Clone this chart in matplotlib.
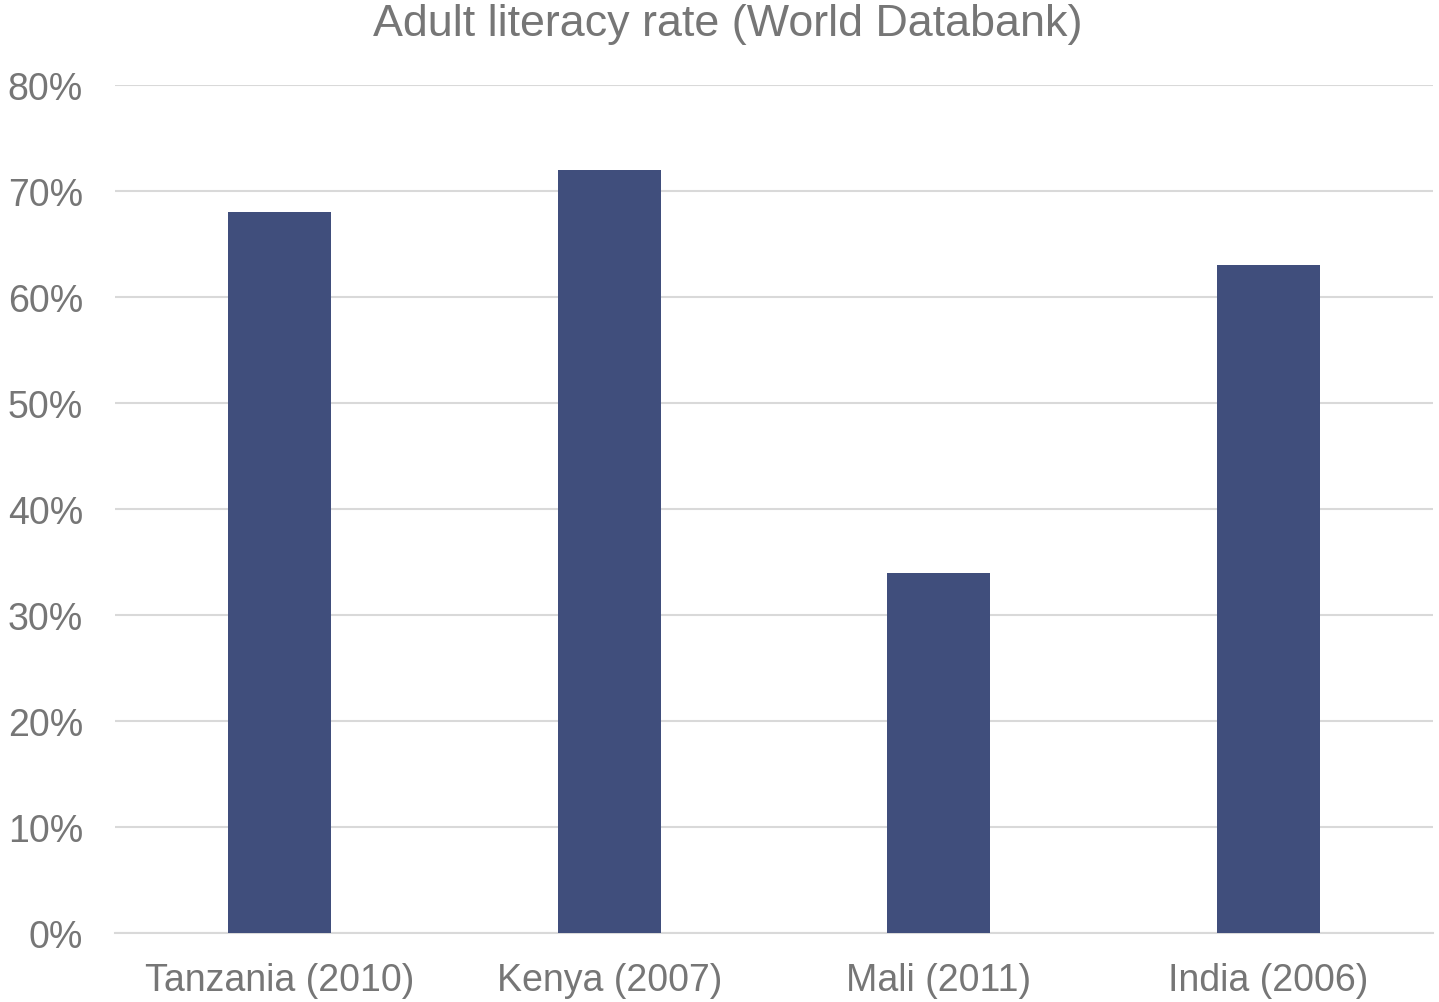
import matplotlib
matplotlib.use("Agg")
import matplotlib.pyplot as plt
from matplotlib.ticker import PercentFormatter

# Adult literacy rate by country (survey year)
countries = ["Tanzania (2010)", "Kenya (2007)", "Mali (2011)", "India (2006)"]
literacy  = [0.68, 0.72, 0.34, 0.63]
y_ticks   = [0.0, 0.1, 0.2, 0.3, 0.4, 0.5, 0.6, 0.7, 0.8]

BAR_COLOR  = "#404e7c"
TEXT_COLOR = "#767676"
GRID_COLOR = "#d9d9d9"

plt.rcParams["font.family"] = ["Liberation Sans", "DejaVu Sans"]

fig = plt.figure(figsize=(14.39, 10.03), dpi=100)
ax = fig.add_axes([0.0799, 0.0688, 0.9159, 0.8455])

x = range(len(countries))
ax.bar(x, literacy, width=0.3125, color=BAR_COLOR, zorder=3)

ax.set_xlim(-0.5, len(countries) - 0.5)
ax.set_ylim(0, 0.8)
ax.set_yticks(y_ticks)
ax.yaxis.set_major_formatter(PercentFormatter(1.0, decimals=0))
ax.set_xticks(list(x))
ax.set_xticklabels(countries)

ax.grid(axis="y", color=GRID_COLOR, linewidth=1.5, zorder=0)
for side in ["top", "right", "left"]:
    ax.spines[side].set_visible(False)
ax.spines["bottom"].set_color(GRID_COLOR)
ax.spines["bottom"].set_linewidth(1.5)

ax.tick_params(axis="both", length=0, labelsize=27, labelcolor=TEXT_COLOR)
ax.tick_params(axis="y", pad=23)
ax.tick_params(axis="x", pad=21)

fig.text(0.5055, 0.976, "Adult literacy rate (World Databank)", ha="center",
         va="center", fontsize=32.3, color=TEXT_COLOR)

fig.savefig("out.png", dpi=100)
